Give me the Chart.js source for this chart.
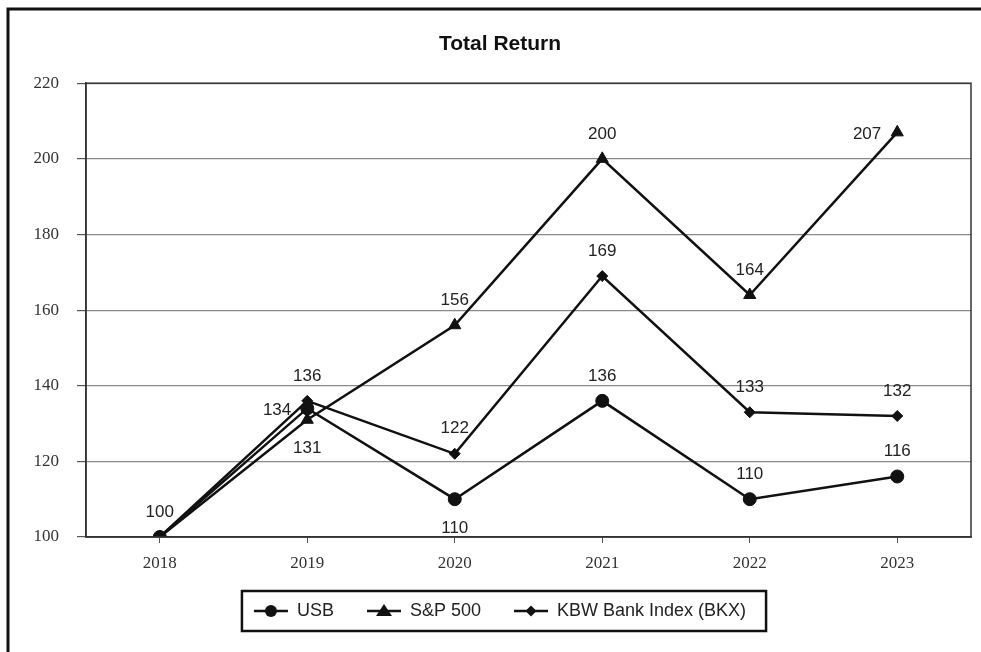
<!DOCTYPE html>
<html lang="en">
<head>
  <meta charset="UTF-8" />
  <title>Total Return</title>
  <script src="https://cdn.jsdelivr.net/npm/chart.js"></script>
  <style>
    * { margin: 0; padding: 0; box-sizing: border-box; }
    body { background: #fff; width: 981px; height: 652px; overflow: hidden; }
    .wrap { position: relative; width: 981px; height: 652px; }
  </style>
</head>
<body>
  <div class="wrap">
    <canvas id="returnChart" width="981" height="652"></canvas>
  </div>

  <script>
    // data
    const years = ['2018', '2019', '2020', '2021', '2022', '2023'];
    const usb = [100, 134, 110, 136, 110, 116];
    const sp500 = [100, 131, 156, 200, 164, 207];
    const kbw = [100, 136, 122, 169, 133, 132];
    const yTicks = [100, 120, 140, 160, 180, 200, 220];

    // where each value label sits relative to its point
    const usbLabelPos = ['above', 'left', 'below', 'above', 'above', 'above'];
    const spLabelPos = [null, 'below', 'above', 'above', 'above', 'left'];
    const kbwLabelPos = [null, 'above', 'above', 'above', 'above', 'above'];

    const INK = '#111';
    const SANS = '"Liberation Sans", Arial, sans-serif';
    const SERIF = '"Liberation Serif", "Times New Roman", serif';
    const LEGEND_HEIGHT = 63;

    // small canvas used as legend icon: line with marker in the middle
    function legendIcon(style) {
      const c = document.createElement('canvas');
      c.width = 36; c.height = 18;
      const g = c.getContext('2d');
      g.strokeStyle = INK; g.fillStyle = INK; g.lineWidth = 2.5;
      g.beginPath(); g.moveTo(1, 9); g.lineTo(35, 9); g.stroke();
      g.beginPath();
      if (style === 'circle') {
        g.arc(18, 9, 6, 0, Math.PI * 2);
      } else if (style === 'triangle') {
        g.moveTo(18, 2); g.lineTo(26, 14); g.lineTo(10, 14); g.closePath();
      } else {
        g.moveTo(18, 3.5); g.lineTo(23.5, 9); g.lineTo(18, 14.5); g.lineTo(12.5, 9); g.closePath();
      }
      g.fill();
      return c;
    }

    const frameAndBorder = {
      id: 'frameAndBorder',
      beforeUpdate(chart) {
        // keep the legend block a fixed height while using wide item padding
        const lg = chart.legend;
        if (lg && !lg._fixedFit) {
          const orig = lg.fit;
          lg.fit = function () { orig.call(this); this.height = LEGEND_HEIGHT; };
          lg._fixedFit = true;
        }
      },
      beforeDraw(chart) {
        const ctx = chart.ctx;
        ctx.save();
        ctx.strokeStyle = INK;
        ctx.lineWidth = 3;
        ctx.beginPath();
        ctx.moveTo(8, 652); ctx.lineTo(8, 9); ctx.lineTo(981, 9);
        ctx.stroke();
        ctx.restore();
      },
      afterDraw(chart) {
        const ctx = chart.ctx;
        const a = chart.chartArea;
        ctx.save();
        ctx.strokeStyle = '#333';
        ctx.lineWidth = 1.5;
        ctx.strokeRect(a.left, a.top, a.right - a.left, a.bottom - a.top);
        // box around the legend
        const boxes = chart.legend.legendHitBoxes;
        if (boxes && boxes.length) {
          let l = Infinity, r = -Infinity, t = Infinity, b = -Infinity;
          boxes.forEach(h => {
            l = Math.min(l, h.left); r = Math.max(r, h.left + h.width);
            t = Math.min(t, h.top); b = Math.max(b, h.top + h.height);
          });
          ctx.strokeStyle = INK;
          ctx.lineWidth = 2.5;
          ctx.strokeRect(l - 12, t - 11, r - l + 32, b - t + 22);
        }
        ctx.restore();
      }
    };

    const valueLabels = {
      id: 'valueLabels',
      afterDatasetsDraw(chart) {
        const ctx = chart.ctx;
        const places = [usbLabelPos, spLabelPos, kbwLabelPos];
        ctx.save();
        ctx.font = '17px ' + SANS;
        ctx.fillStyle = '#222';
        ctx.textBaseline = 'middle';
        chart.data.datasets.forEach((ds, di) => {
          const meta = chart.getDatasetMeta(di);
          meta.data.forEach((pt, i) => {
            const where = places[di][i];
            if (!where) return;
            const txt = String(ds.data[i]);
            if (where === 'above') {
              ctx.textAlign = 'center';
              ctx.fillText(txt, pt.x, pt.y - 25);
            } else if (where === 'below') {
              ctx.textAlign = 'center';
              ctx.fillText(txt, pt.x, pt.y + 29);
            } else {
              ctx.textAlign = 'right';
              ctx.fillText(txt, pt.x - 16, pt.y + 2);
            }
          });
        });
        ctx.restore();
      }
    };

    function lineSet(label, data, style, radius) {
      return {
        label,
        data,
        borderColor: INK,
        backgroundColor: INK,
        borderWidth: 2.5,
        tension: 0,
        pointStyle: style,
        pointRadius: radius,
        pointHoverRadius: radius,
        pointBackgroundColor: INK,
        pointBorderColor: INK,
        pointBorderWidth: 1,
        legendIcon: legendIcon(style)
      };
    }

    const tickFont = { family: SERIF, size: 17 };

    new Chart(document.getElementById('returnChart'), {
      type: 'line',
      data: {
        labels: years,
        datasets: [
          lineSet('USB', usb, 'circle', 6.5),
          lineSet('S&P 500', sp500, 'triangle', 7),
          lineSet('KBW Bank Index (BKX)', kbw, 'rectRot', 5.5)
        ]
      },
      plugins: [frameAndBorder, valueLabels],
      options: {
        responsive: false,
        animation: false,
        devicePixelRatio: 1,
        layout: { padding: { left: 29, right: 10, top: 0, bottom: 20 } },
        plugins: {
          title: {
            display: true,
            text: 'Total Return',
            color: INK,
            font: { family: SANS, size: 21, weight: 'bold' },
            padding: { top: 32, bottom: 26 }
          },
          legend: {
            position: 'bottom',
            labels: {
              usePointStyle: true,
              pointStyleWidth: 34,
              padding: 33,
              color: '#222',
              font: { family: SANS, size: 18 },
              generateLabels(chart) {
                return chart.data.datasets.map((ds, i) => ({
                  text: ds.label,
                  pointStyle: ds.legendIcon,
                  fillStyle: INK,
                  strokeStyle: INK,
                  lineWidth: 0,
                  fontColor: '#222',
                  hidden: false,
                  datasetIndex: i
                }));
              }
            }
          },
          tooltip: { enabled: false }
        },
        scales: {
          x: {
            offset: true,
            grid: { display: true, drawOnChartArea: false, offset: false, tickLength: 6, color: '#333', tickColor: '#555' },
            border: { color: '#333', width: 1.5 },
            ticks: { color: '#333', font: tickFont, padding: 10 },
            afterFit(scale) { scale.height = 32; }
          },
          y: {
            min: 100,
            max: 220,
            afterBuildTicks(scale) { scale.ticks = yTicks.map(v => ({ value: v })); },
            grid: { color: '#8a8a8a', lineWidth: 1.2, tickLength: 9, tickColor: '#555' },
            border: { color: '#333', width: 1.5 },
            ticks: { color: '#333', font: tickFont, padding: 18 },
            afterFit(scale) { scale.width = 57; }
          }
        }
      }
    });
  </script>
</body>
</html>
